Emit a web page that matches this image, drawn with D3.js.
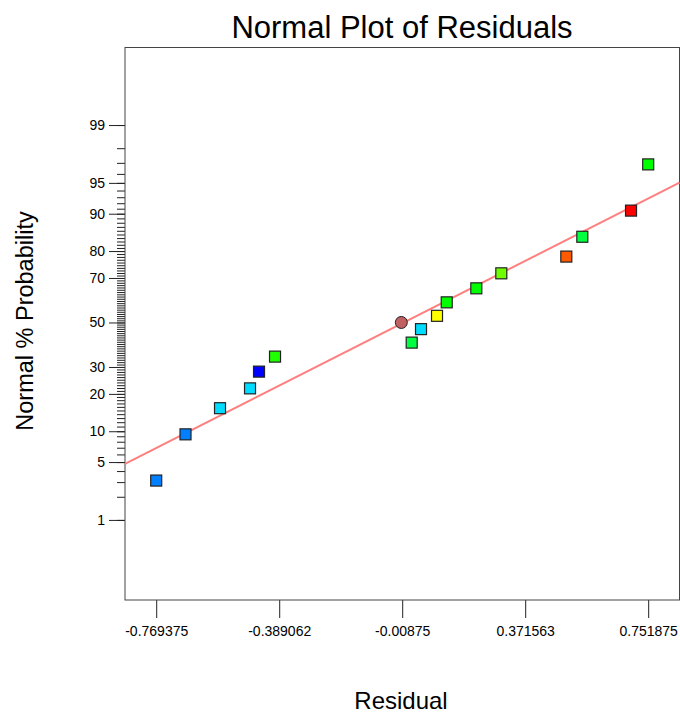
<!DOCTYPE html>
<html>
<head>
    <meta charset="utf-8">
    <script src="https://cdn.jsdelivr.net/npm/d3@7"></script>
    <style>
        body { margin: 0; background: white; }
        svg { display: block; font-family: 'Liberation Sans', Arial, sans-serif; }
        .axis path { display: none; }
        .axis line { stroke: #222; }
        .axis text { font-size: 14px; fill: #000; font-family: 'Liberation Sans', Arial, sans-serif; }
    </style>
</head>
<body>
<script>
    // data (residual, normal % probability, colour)
    const residuals = [-0.769375, -0.6788, -0.5721, -0.4793, -0.4515, -0.4020, 0.0206, 0.0494,
        0.0989, 0.1289, 0.2204, 0.2977, 0.4987, 0.5482, 0.6988, 0.751875];
    const probs = [3.125, 9.375, 15.625, 21.875, 28.125, 34.375, 40.625, 46.875,
        53.125, 59.375, 65.625, 71.875, 78.125, 84.375, 90.625, 96.875];
    const colors = ["#0080ff", "#0080ff", "#00dcff", "#00dcff", "#0000ff", "#20ff00", "#00ff40", "#00dcff",
        "#ffff00", "#00ff00", "#00ff00", "#70ff00", "#ff5a00", "#00ff40", "#ff0000", "#00ff00"];
    // the round point
    const centerPoint = { r: -0.0115, p: 50 };
    // fitted line end points
    const lineRes = [-0.8659, 0.8487];
    const lineProb = [4.78, 95.03];

    const xTicks = [-0.769375, -0.389062, -0.00875, 0.371563, 0.751875];
    const xTickLabels = ["-0.769375", "-0.389062", "-0.00875", "0.371563", "0.751875"];
    const yTicks = [1, 5, 10, 20, 30, 50, 70, 80, 90, 95, 99];
    const yMinor = d3.range(1, 100);

    const width = 680, height = 715;
    const margin = { top: 47.5, right: 0.5, bottom: 115, left: 125 };

    // inverse normal cdf (Acklam)
    function probit(p) {
        const a = [-3.969683028665376e+01, 2.209460984245205e+02, -2.759285104469687e+02, 1.383577518672690e+02, -3.066479806614716e+01, 2.506628277459239e+00];
        const b = [-5.447609879822406e+01, 1.615858368580409e+02, -1.556989798598866e+02, 6.680131188771972e+01, -1.328068155288572e+01];
        const c = [-7.784894002430293e-03, -3.223964580411365e-01, -2.400758277161838e+00, -2.549732539343734e+00, 4.374664141464968e+00, 2.938163982698783e+00];
        const d = [7.784695709041462e-03, 3.224671290700398e-01, 2.445134137142996e+00, 3.754408661907416e+00];
        const pl = 0.02425;
        let q, r;
        if (p < pl) {
            q = Math.sqrt(-2 * Math.log(p));
            return (((((c[0] * q + c[1]) * q + c[2]) * q + c[3]) * q + c[4]) * q + c[5]) / ((((d[0] * q + d[1]) * q + d[2]) * q + d[3]) * q + 1);
        } else if (p <= 1 - pl) {
            q = p - 0.5; r = q * q;
            return (((((a[0] * r + a[1]) * r + a[2]) * r + a[3]) * r + a[4]) * r + a[5]) * q / (((((b[0] * r + b[1]) * r + b[2]) * r + b[3]) * r + b[4]) * r + 1);
        }
        q = Math.sqrt(-2 * Math.log(1 - p));
        return -(((((c[0] * q + c[1]) * q + c[2]) * q + c[3]) * q + c[4]) * q + c[5]) / ((((d[0] * q + d[1]) * q + d[2]) * q + d[3]) * q + 1);
    }
    const z = p => probit(p / 100);

    const svg = d3.select("body").append("svg")
        .attr("width", width)
        .attr("height", height);

    const x = d3.scaleLinear()
        .domain([-0.8659, 0.8487])
        .range([margin.left, width - margin.right]);

    const y = d3.scaleLinear()
        .domain([-3.27, 3.24])
        .range([height - margin.bottom, margin.top]);

    //title
    svg.append("text")
        .attr("x", 402)
        .attr("y", 38)
        .attr("text-anchor", "middle")
        .style("font-size", "31px")
        .text("Normal Plot of Residuals");

    //axis titles
    svg.append("text")
        .attr("x", 401)
        .attr("y", 709)
        .attr("text-anchor", "middle")
        .style("font-size", "24px")
        .text("Residual");

    svg.append("text")
        .attr("transform", "translate(33,321) rotate(-90)")
        .attr("text-anchor", "middle")
        .style("font-size", "23.5px")
        .text("Normal % Probability");

    //minor ticks
    svg.append("g")
        .attr("class", "axis")
        .attr("transform", `translate(${margin.left},0)`)
        .call(d3.axisLeft(y).tickValues(yMinor.map(z)).tickSize(8).tickFormat(""));

    //major ticks
    svg.append("g")
        .attr("class", "axis")
        .attr("transform", `translate(${margin.left},0)`)
        .call(d3.axisLeft(y).tickValues(yTicks.map(z)).tickSize(16).tickPadding(4)
            .tickFormat((d, i) => yTicks[i]));

    svg.append("g")
        .attr("class", "axis")
        .attr("transform", `translate(0,${height - margin.bottom})`)
        .call(d3.axisBottom(x).tickValues(xTicks).tickSize(18).tickPadding(8)
            .tickFormat((d, i) => xTickLabels[i]));

    //frame
    svg.append("rect")
        .attr("x", margin.left)
        .attr("y", margin.top)
        .attr("width", width - margin.right - margin.left)
        .attr("height", height - margin.bottom - margin.top)
        .attr("fill", "none")
        .attr("stroke", "#444");

    //fit line
    svg.append("line")
        .attr("x1", x(lineRes[0])).attr("y1", y(z(lineProb[0])))
        .attr("x2", x(lineRes[1])).attr("y2", y(z(lineProb[1])))
        .attr("stroke", "#ff7f7f")
        .attr("stroke-width", 2);

    //points
    const size = 11;
    svg.selectAll(".pt")
        .data(residuals)
        .enter().append("rect")
        .attr("class", "pt")
        .attr("x", d => x(d) - size / 2)
        .attr("y", (d, i) => y(z(probs[i])) - size / 2)
        .attr("width", size)
        .attr("height", size)
        .attr("fill", (d, i) => colors[i])
        .attr("stroke", "#222")
        .attr("stroke-width", 1.2);

    svg.append("circle")
        .attr("cx", x(centerPoint.r))
        .attr("cy", y(z(centerPoint.p)))
        .attr("r", 6)
        .attr("fill", "#c06060")
        .attr("stroke", "#222")
        .attr("stroke-width", 1);
</script>
</body>
</html>
